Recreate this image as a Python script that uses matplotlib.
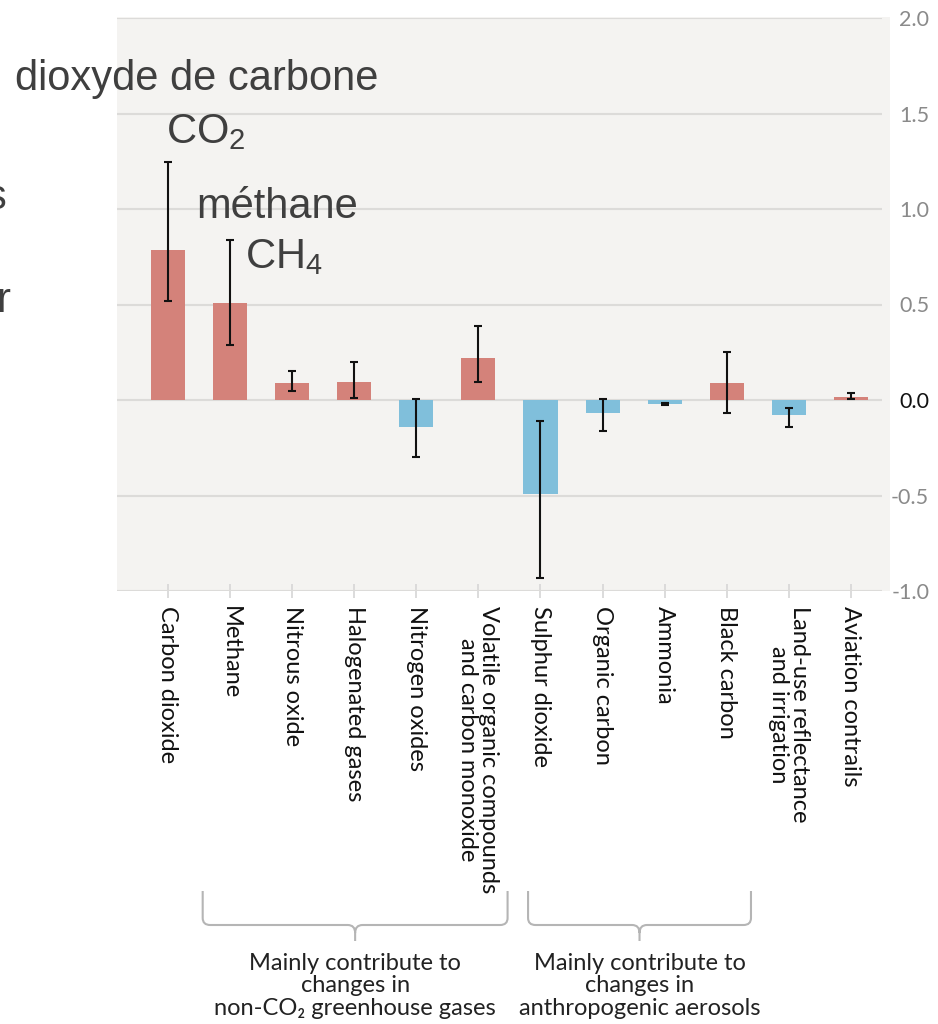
import numpy as np
import matplotlib
matplotlib.use("Agg")
import matplotlib.pyplot as plt
from matplotlib.patches import Rectangle, PathPatch
from matplotlib.path import Path
import matplotlib.transforms as mtransforms

plt.rcParams['axes.unicode_minus'] = False
plt.rcParams['mathtext.fontset'] = 'custom'
plt.rcParams['mathtext.rm'] = 'Liberation Sans'
plt.rcParams['mathtext.it'] = 'Liberation Sans'

# effective radiative forcing by emitted component (W/m2)
categories = ["Carbon dioxide", "Methane", "Nitrous oxide", "Halogenated gases",
              "Nitrogen oxides", "Volatile organic compounds\nand carbon monoxide",
              "Sulphur dioxide", "Organic carbon", "Ammonia", "Black carbon",
              "Land-use reflectance\nand irrigation", "Aviation contrails"]
values = [0.785, 0.51, 0.09, 0.095, -0.14, 0.22, -0.49, -0.07, -0.02, 0.09, -0.08, 0.017]
err_low = [0.52, 0.29, 0.045, 0.008, -0.30, 0.095, -0.93, -0.16, -0.025, -0.07, -0.14, 0.005]
err_high = [1.245, 0.84, 0.15, 0.20, 0.005, 0.39, -0.11, 0.005, -0.015, 0.25, -0.04, 0.035]
yticks = [-1.0, -0.5, 0.0, 0.5, 1.0, 1.5, 2.0]

group_labels = ["Mainly contribute to\nchanges in\nnon-CO\u2082 greenhouse gases",
                "Mainly contribute to\nchanges in\nanthropogenic aerosols"]
group_spans = [(0.56, 5.47), (5.80, 9.39)]

W, H = 938, 1024
RED = "#d4827a"
BLUE = "#80bfdb"
BG = "#f4f3f1"
GRID = "#dcdbd9"

fig = plt.figure(figsize=(W / 100, H / 100), dpi=100)
fig.patch.set_facecolor("white")

def fx(px):
    return px / W

def fy(py):
    return 1 - py / H

# panel background runs a little past the gridlines on the right
fig.add_artist(Rectangle((fx(117), fy(591)), fx(890) - fx(117), fy(17) - fy(591),
                         transform=fig.transFigure, facecolor=BG, edgecolor="none", zorder=-5))

ax = fig.add_axes([fx(117), fy(591), fx(882) - fx(117), fy(18) - fy(591)])
ax.set_facecolor("none")

x = np.arange(len(categories))
vals = np.array(values)
colors = [RED if v >= 0 else BLUE for v in values]
ax.bar(x, vals, width=0.55, color=colors, zorder=3)
yerr = np.array([vals - np.array(err_low), np.array(err_high) - vals])
ax.errorbar(x, vals, yerr=yerr, fmt="none", ecolor="#111111", elinewidth=1.5,
            capsize=2.8, capthick=1.5, zorder=4)

ax.set_xlim(-0.82, 11.5)
ax.set_ylim(-1.0, 2.0)
ax.set_yticks(yticks)
ax.yaxis.grid(True, color=GRID, linewidth=1.5, zorder=0)
ax.set_axisbelow(True)
for s in ax.spines.values():
    s.set_visible(False)

ax.yaxis.tick_right()
ax.set_yticklabels([f"{t:.1f}" for t in yticks])
ax.tick_params(axis="y", length=0, pad=34, labelsize=15.5, labelcolor="#8a8a8a")
for lab, t in zip(ax.get_yticklabels(), yticks):
    lab.set_horizontalalignment("right")
    lab.set_fontfamily("Lato")
    if t == 0:
        lab.set_color("#111111")

ax.set_xticks(x)
ax.set_xticklabels(categories, rotation=270, fontsize=17, family="Lato",
                   color="#111111", va="top", ha="center", linespacing=1.0)
ax.tick_params(axis="x", direction="inout", length=10, width=1.2, color="#d6d6d6", pad=6)

# curly braces under the groups
trans = mtransforms.blended_transform_factory(ax.transData, fig.transFigure)
def brace(x0, x1):
    xm = (x0 + x1) / 2
    r = 0.12
    ytop, ybar, ytip = fy(891), fy(925), fy(941)
    dy = fy(918) - ybar
    dy2 = ybar - fy(933)
    verts = [(x0, ytop), (x0, ybar + dy), (x0, ybar), (x0 + r, ybar),
             (xm - r, ybar), (xm, ybar), (xm, ybar - dy2), (xm, ytip),
             (x1, ytop), (x1, ybar + dy), (x1, ybar), (x1 - r, ybar),
             (xm + r, ybar), (xm, ybar), (xm, ybar - dy2)]
    codes = [Path.MOVETO, Path.LINETO, Path.CURVE3, Path.CURVE3,
             Path.LINETO, Path.CURVE3, Path.CURVE3, Path.LINETO,
             Path.MOVETO, Path.LINETO, Path.CURVE3, Path.CURVE3,
             Path.LINETO, Path.CURVE3, Path.CURVE3]
    fig.add_artist(PathPatch(Path(verts, codes), transform=trans, facecolor="none",
                             edgecolor="#b5b5b5", linewidth=1.5, clip_on=False))
    return xm

for (a, b), lab in zip(group_spans, group_labels):
    xm = brace(a, b)
    fig.text(xm, fy(953), lab, transform=trans, ha="center", va="top",
             fontsize=17, family=["Lato", "DejaVu Sans"], color="#222222",
             linespacing=1.08)

# overlaid annotation labels
ov = dict(family="Liberation Sans", color="#3f3f3f", fontsize=30, va="baseline")
fig.text(fx(15), fy(90), "dioxyde de carbone", ha="left", **ov)
fig.text(fx(166), fy(143), "CO$_2$", ha="left", **ov)
fig.text(fx(196), fy(218), "méthane", ha="left", **ov)
fig.text(fx(245), fy(268), "CH$_4$", ha="left", **ov)
fig.text(fx(7), fy(209), "s", ha="right", **ov)
fig.text(fx(10), fy(312), "r", ha="right", **ov)

fig.savefig("out.png", dpi=100)
